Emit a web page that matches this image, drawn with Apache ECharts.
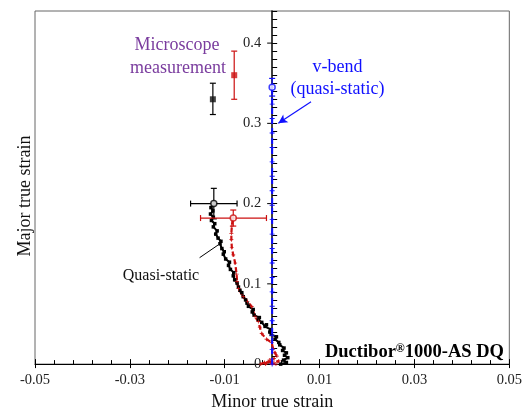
<!DOCTYPE html>
<html><head><meta charset="utf-8">
<script src="https://cdn.jsdelivr.net/npm/echarts/dist/echarts.min.js"></script>
<style>html,body{margin:0;padding:0;background:#fff}#c{width:525px;height:416px}</style>
</head><body><div id="c"></div>
<script>
// ---------- data ----------
const quasiStatic = [
  [0.0018,0.000],[0.0030,0.002],[0.0024,0.005],[0.0033,0.008],[0.0026,0.011],[0.0030,0.014],
  [0.0022,0.017],[0.0025,0.020],[0.0016,0.024],[0.0014,0.027],[0.0006,0.031],[0.0009,0.034],
  [-0.0002,0.037],[-0.0005,0.040],[-0.0003,0.043],[-0.0015,0.047],[-0.0012,0.049],[-0.0022,0.052],
  [-0.0029,0.055],[-0.0027,0.058],[-0.0038,0.061],[-0.0042,0.065],[-0.0040,0.068],[-0.0050,0.072],
  [-0.0053,0.076],[-0.0056,0.080],[-0.0061,0.084],[-0.0064,0.089],[-0.0068,0.092],[-0.0071,0.096],
  [-0.0074,0.101],[-0.0079,0.105],[-0.0082,0.110],[-0.0081,0.114],[-0.0088,0.118],[-0.0092,0.123],
  [-0.0090,0.127],[-0.0098,0.131],[-0.0103,0.137],[-0.0101,0.140],[-0.0106,0.144],[-0.0110,0.150],
  [-0.0108,0.153],[-0.0114,0.157],[-0.0119,0.162],[-0.0116,0.166],[-0.0124,0.171],[-0.0121,0.175],
  [-0.0128,0.179],[-0.0124,0.183],[-0.0130,0.187],[-0.0125,0.191],[-0.0129,0.195],[-0.0123,0.200]
];
const quasiStaticRed = [
  [-0.0024,0.000],[-0.0016,0.002],[-0.0008,0.003],[0.0004,0.002],[0.0014,0.004],[0.0008,0.000],
  [-0.0014,0.000],[-0.0006,0.005],[0.0004,0.007],[0.0010,0.010],[0.0006,0.014],[0.0002,0.019],
  [-0.0001,0.027],[-0.0012,0.031],[-0.0022,0.038],[-0.0026,0.046],[-0.0029,0.053],
  [-0.0036,0.059],[-0.0043,0.0715],[-0.0052,0.078],[-0.0061,0.084],[-0.0071,0.094],[-0.0074,0.103],
  [-0.0075,0.112],[-0.0078,0.126],[-0.0082,0.136],[-0.0085,0.145],[-0.0086,0.155],[-0.0086,0.163],
  [-0.0085,0.172],[-0.0083,0.182]
];
const vBend = [
  [0,0.000],[0,0.018],[0,0.036],[0,0.054],[0,0.072],[0,0.090],[0,0.108],[0,0.126],[0,0.144],
  [0,0.162],[0,0.180],[0,0.198],[0,0.216],[0,0.234],[0,0.252],[0,0.270],[0,0.288],[0,0.306],
  [0,0.324],[0,0.345]
];
// endpoints with error bars: [x, y, xLow, xHigh, yLow, yHigh]
const blackEnd   = [[-0.0123,0.200,-0.0172,-0.0074,0.181,0.219]];
const redEnd     = [[-0.0082,0.182,-0.0151,-0.0012,0.172,0.192]];
const blueEnd    = [[0,0.345,0,0,0.334,0.356]];
const blackMicro = [[-0.0125,0.330,-0.0125,-0.0125,0.311,0.350]];
const redMicro   = [[-0.0080,0.360,-0.0080,-0.0080,0.330,0.390]];
const xTicks = [-0.05,-0.03,-0.01,0.01,0.03,0.05];
const yTicks = [0,0.1,0.2,0.3,0.4];
const yTickLabels = ['0','0.1','0.2','0.3','0.4'];

const FONT = "'Liberation Serif','Times New Roman',serif";
const BLACK='#000', RED='#cc1010', BLUE='#1010ff', PURPLE='#7a3c9e';

function errRender(color){
  return function(params, api){
    const x=api.value(0), y=api.value(1);
    const xl=api.value(2), xh=api.value(3), yl=api.value(4), yh=api.value(5);
    const ch=[]; const cap=3; const st={stroke:color,lineWidth:1.2};
    if (xl!==xh){
      const a=api.coord([xl,y]), b=api.coord([xh,y]);
      ch.push({type:'line',shape:{x1:a[0],y1:a[1],x2:b[0],y2:b[1]},style:st});
      ch.push({type:'line',shape:{x1:a[0],y1:a[1]-cap,x2:a[0],y2:a[1]+cap},style:st});
      ch.push({type:'line',shape:{x1:b[0],y1:b[1]-cap,x2:b[0],y2:b[1]+cap},style:st});
    }
    if (yl!==yh){
      const a=api.coord([x,yl]), b=api.coord([x,yh]);
      ch.push({type:'line',shape:{x1:a[0],y1:a[1],x2:b[0],y2:b[1]},style:st});
      ch.push({type:'line',shape:{x1:a[0]-cap,y1:a[1],x2:a[0]+cap,y2:a[1]},style:st});
      ch.push({type:'line',shape:{x1:b[0]-cap,y1:b[1],x2:b[0]+cap,y2:b[1]},style:st});
    }
    return {type:'group',children:ch};
  };
}
function errSeries(data,color){
  return {type:'custom',data:data,renderItem:errRender(color),encode:{x:[0,2,3],y:[1,4,5]},z:3,silent:true};
}
// y tick labels & outward major ticks placed at the x = 0 axis line
function yLabelRender(params, api){
  const p=api.coord([0,api.value(1)]);
  const i=params.dataIndex;
  return {type:'group',children:[
    {type:'line',shape:{x1:p[0]-5,y1:p[1],x2:p[0],y2:p[1]},style:{stroke:BLACK,lineWidth:1}},
    {type:'text',x:p[0]-11,y:p[1],style:{text:yTickLabels[i],fontFamily:FONT,fontSize:14.5,fill:'#222',align:'right',verticalAlign:'middle'}}
  ]};
}
const crossSym = 'path://M-1,-0.18H1V0.18H-1Z M-0.18,-1H0.18V1H-0.18Z';

const chart = echarts.init(document.getElementById('c'));
const xBase = {type:'value',min:-0.05,max:0.05,interval:0.02,splitLine:{show:false}};
chart.setOption({
  animation:false,
  grid:{left:35,right:12,top:11,bottom:44,show:true,borderColor:'#666',borderWidth:1,backgroundColor:'transparent'},
  xAxis:[
    Object.assign({},xBase,{
      position:'bottom',
      axisLine:{onZero:false,lineStyle:{color:BLACK,width:1}},
      axisTick:{inside:true,length:5,lineStyle:{color:BLACK}},
      minorTick:{show:true,splitNumber:5,length:4,lineStyle:{color:BLACK}},
      axisLabel:{margin:9,color:'#222',fontFamily:FONT,fontSize:14.5,
        formatter:v=>{const f=xTicks.find(t=>Math.abs(t-v)<1e-9);return f===undefined?'':String(f);}},
      name:'Minor true strain',nameLocation:'middle',nameGap:26,
      nameTextStyle:{fontFamily:FONT,fontSize:18,color:'#111'}
    }),
    Object.assign({},xBase,{
      position:'bottom',
      axisLine:{show:false,onZero:false},
      axisTick:{inside:false,length:4,lineStyle:{color:BLACK}},
      axisLabel:{show:false}
    })
  ],
  yAxis:{
      type:'value',min:0,max:0.44,interval:0.1,splitLine:{show:false},
      axisLine:{onZero:true,lineStyle:{color:BLACK,width:1.5}},
      axisTick:{inside:true,length:5,lineStyle:{color:BLACK}},
      minorTick:{show:true,splitNumber:10,length:5,lineStyle:{color:BLACK}},
      axisLabel:{show:false}
  },
  series:[
    {type:'custom',data:yTicks.map(v=>[0,v]),renderItem:yLabelRender,encode:{x:0,y:1},silent:true,z:1,clip:false},
    {type:'line',name:'quasi-static',data:quasiStatic,symbol:'rect',symbolSize:3.5,
     lineStyle:{color:BLACK,width:2},itemStyle:{color:BLACK},z:2,
     markLine:{silent:true,symbol:['none','none'],label:{show:false},
       lineStyle:{color:BLACK,width:1,type:'solid'},
       data:[[{coord:[-0.0153,0.1326]},{coord:[-0.0113,0.1488]}]]}},
    {type:'line',name:'red',data:quasiStaticRed,symbol:crossSym,symbolSize:4,
     lineStyle:{color:RED,width:2.2,type:[5,3]},itemStyle:{color:RED},z:2},
    errSeries(blackEnd,BLACK),
    errSeries(redEnd,RED),
    errSeries(blueEnd,BLUE),
    errSeries(blackMicro,BLACK),
    errSeries(redMicro,RED),
    {type:'scatter',data:blackEnd.map(d=>[d[0],d[1]]),symbol:'circle',symbolSize:6,
     itemStyle:{color:'#fff',borderColor:BLACK,borderWidth:1.5},z:5},
    {type:'scatter',data:redEnd.map(d=>[d[0],d[1]]),symbol:'circle',symbolSize:6,
     itemStyle:{color:'#fff',borderColor:RED,borderWidth:1.5},z:5},
    {type:'scatter',data:blackMicro.map(d=>[d[0],d[1]]),symbol:'rect',symbolSize:6,
     itemStyle:{color:'#111'},z:5},
    {type:'scatter',data:redMicro.map(d=>[d[0],d[1]]),symbol:'rect',symbolSize:6,
     itemStyle:{color:RED},z:5},
    {type:'line',name:'v-bend',data:vBend,symbol:crossSym,symbolSize:5,
     lineStyle:{color:BLUE,width:2,type:[6,4]},itemStyle:{color:BLUE},z:4,
     markLine:{silent:true,symbol:['none','arrow'],symbolSize:[7,9],label:{show:false},
       lineStyle:{color:BLUE,width:1.2,type:'solid'},
       data:[[{coord:[0.0082,0.327]},{coord:[0.0013,0.300]}]]}},
    {type:'scatter',data:blueEnd.map(d=>[d[0],d[1]]),symbol:'circle',symbolSize:6,
     itemStyle:{color:'#fff',borderColor:BLUE,borderWidth:1.5},z:6}
  ],
  graphic:[
    {type:'text',x:25,y:196,rotation:Math.PI/2,style:{text:'Major true strain',fontFamily:FONT,fontSize:18,fill:'#111',align:'center',verticalAlign:'middle'}},
    {type:'text',x:177,y:45,style:{text:'Microscope',fontFamily:FONT,fontSize:18,fill:PURPLE,align:'center',verticalAlign:'middle'}},
    {type:'text',x:178,y:68,style:{text:'measurement',fontFamily:FONT,fontSize:18,fill:PURPLE,align:'center',verticalAlign:'middle'}},
    {type:'text',x:337.5,y:67,style:{text:'v-bend',fontFamily:FONT,fontSize:18,fill:BLUE,align:'center',verticalAlign:'middle'}},
    {type:'text',x:337.5,y:89,style:{text:'(quasi-static)',fontFamily:FONT,fontSize:18,fill:BLUE,align:'center',verticalAlign:'middle'}},
    {type:'text',x:161,y:275.5,style:{text:'Quasi-static',fontFamily:FONT,fontSize:16,fill:'#111',align:'center',verticalAlign:'middle'}},
    {type:'text',x:504,y:352,style:{text:'{a|Ductibor}{s|®}{a|1000-AS DQ}',align:'right',verticalAlign:'middle',
      rich:{a:{fontFamily:FONT,fontSize:18.5,fontWeight:'bold',fill:'#000'},
            s:{fontFamily:FONT,fontSize:12,fontWeight:'bold',fill:'#000',verticalAlign:'top'}}}}
  ]
});
</script></body></html>
